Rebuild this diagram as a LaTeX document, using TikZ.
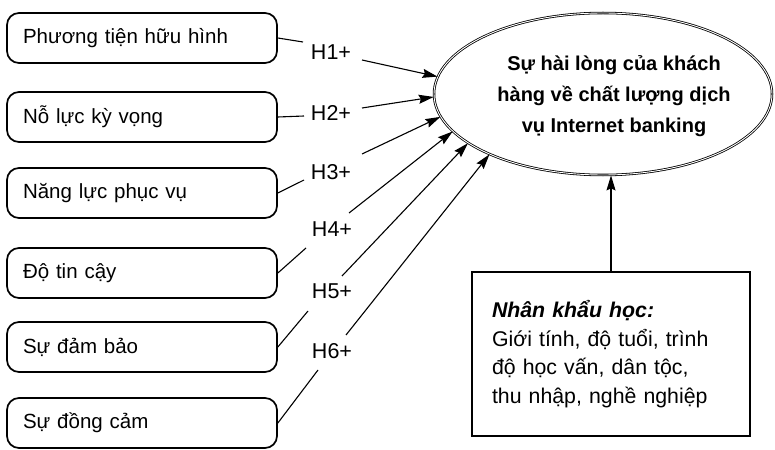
\documentclass[tikz,border=0pt]{standalone}
\usepackage{fontspec}
\setmainfont{Liberation Sans}
\usetikzlibrary{arrows.meta,shapes.geometric}

\begin{document}
\begin{tikzpicture}[x=1pt,y=-1pt,
  factor/.style={draw,line width=1.7pt,rounded corners=12pt,
    minimum width=270pt,minimum height=50pt,text width=238pt,
    align=left,inner xsep=16pt,font=\fontsize{20.5}{25}\selectfont},
  hyp/.style={inner sep=0pt,font=\fontsize{21.5}{26}\selectfont},
  link/.style={line width=1.1pt},
  effect/.style={line width=1.1pt,-{Stealth[length=15pt,width=9pt,inset=2pt]}},
  outcome/.style={ellipse,draw,double,line width=0.8pt,double distance=0.9pt,
    minimum width=338pt,minimum height=162pt,inner sep=0pt},
  outcometext/.style={align=center,font=\bfseries\fontsize{20}{31}\selectfont},
  demo/.style={draw,line width=1.3pt,minimum width=278pt,minimum height=164pt,
    text width=238pt,inner xsep=20pt,align=left,
    font=\fontsize{21.3}{28.7}\selectfont},
]
\useasboundingbox (0,0) rectangle (775,449);

% factor boxes
\node[factor] (f1) at (142,38)  {Phương tiện hữu hình};
\node[factor] (f2) at (142,117) {Nỗ lực kỳ vọng};
\node[factor] (f3) at (142,193) {Năng lực phục vụ};
\node[factor] (f4) at (142,273) {Độ tin cậy};
\node[factor] (f5) at (142,347) {Sự đảm bảo};
\node[factor] (f6) at (142,423) {Sự đồng cảm};

% hypothesis labels
\node[hyp] (h1) at (331,52)  {H1+};
\node[hyp] (h2) at (331,113) {H2+};
\node[hyp] (h3) at (331,172) {H3+};
\node[hyp] (h4) at (332,229) {H4+};
\node[hyp] (h5) at (332,291) {H5+};
\node[hyp] (h6) at (332,351) {H6+};

% outcome
\node[outcome] (sat) at (603,94) {};
\node[outcometext] (satlabel) at (614,96)
  {Sự hài lòng của khách\\hàng về chất lượng dịch\\vụ Internet banking};

% demographic moderators
\node[demo] (dem) at (611,354)
  {\textbf{\textit{Nhân khẩu học:}}\\Giới tính, độ tuổi, trình\\độ học vấn, dân tộc,\\thu nhập, nghề nghiệp};

% line ends beside the labels
\coordinate (e1) at (303,42);
\coordinate (e2) at (304,116);
\coordinate (e3) at (304,180);
\coordinate (e4) at (306,248);
\coordinate (e5) at (308,311);
\coordinate (e6) at (318,370);
\coordinate (s1) at (362,60);
\coordinate (s2) at (362,108);
\coordinate (s3) at (362,154);
\coordinate (s4) at (349,213);
\coordinate (s5) at (342,276);
\coordinate (s6) at (346,335);

\foreach \i in {1,...,6} \draw[link] (f\i.east) -- (e\i);

\draw[effect] (s1) -- (sat.174.6);
\draw[effect] (s2) -- (sat.181);
\draw[effect] (s3) -- (sat.188);
\draw[effect] (s4) -- (sat.194.5);
\draw[effect] (s5) -- (sat.200.3);
\draw[effect] (s6) -- (sat.208);

\draw[effect] (dem.north) -- (dem.north |- sat.south);
\end{tikzpicture}
\end{document}
